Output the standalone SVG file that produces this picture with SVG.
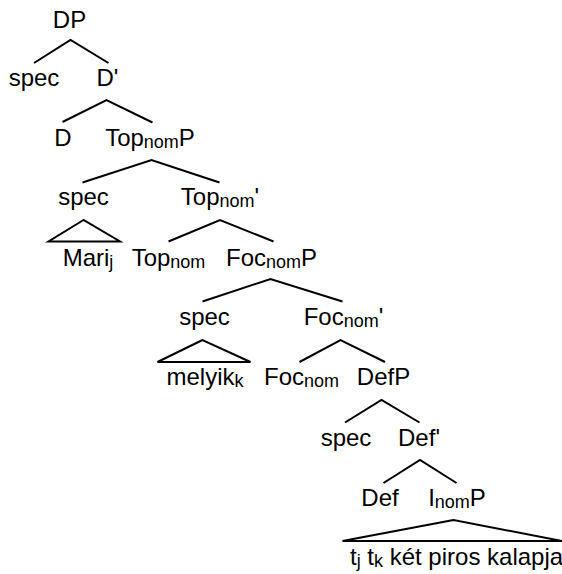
<svg xmlns="http://www.w3.org/2000/svg" width="562" height="574" viewBox="0 0 562 574">
<style>
  text { font-family: "Liberation Sans", Arial, sans-serif; font-size: 24px; fill: #000; text-anchor: middle; }
  .sub { font-size: 18px; }
  .edge { stroke: #000; stroke-width: 2; fill: none; }
</style>
<rect width="562" height="574" fill="#fff"/>
<g id="connectors">
  <polyline class="edge" points="34,63 70.5,40 108.5,63"/>
  <polyline class="edge" points="62.5,122 106.5,100 152.5,122.5"/>
  <polyline class="edge" points="82.5,182.5 151.5,160 219.5,182.5"/>
  <polyline class="edge" points="168.5,241.5 220,220 273.5,241.5"/>
  <polygon class="edge" points="83.5,220 48.5,241.5 120,241.5"/>
  <polyline class="edge" points="202.5,301.5 270.5,279 342.5,301.5"/>
  <polyline class="edge" points="299.5,362 340.5,340 385,362"/>
  <polygon class="edge" points="202.5,340 157.5,362 250.5,362"/>
  <polyline class="edge" points="345,422.5 381.5,400 419.5,422.5"/>
  <polyline class="edge" points="383.5,483 420,460 456.5,483"/>
  <polygon class="edge" points="453.5,520 342.5,541 562,541"/>
</g>
<g id="n-DP"><text x="69.5" y="28">DP</text></g>
<g id="n-spec1"><text x="34" y="86">spec</text></g>
<g id="n-Dbar"><text x="107.5" y="86">D'</text></g>
<g id="n-D"><text x="63" y="146">D</text></g>
<g id="n-TopnomP"><text x="150" y="146">Top<tspan class="sub" dy="1.5">nom</tspan><tspan dy="-1.5">P</tspan></text></g>
<g id="n-spec2"><text x="83.5" y="205">spec</text></g>
<g id="n-Topnombar"><text x="220" y="205">Top<tspan class="sub" dy="1.5">nom</tspan><tspan dy="-1.5">'</tspan></text></g>
<g id="n-Mari"><text x="88" y="266">Mari<tspan class="sub" dy="1.5">j</tspan></text></g>
<g id="n-Topnom"><text x="168.5" y="266">Top<tspan class="sub" dy="1.5">nom</tspan></text></g>
<g id="n-FocnomP"><text x="271.5" y="266">Foc<tspan class="sub" dy="1.5">nom</tspan><tspan dy="-1.5">P</tspan></text></g>
<g id="n-spec3"><text x="204.5" y="325">spec</text></g>
<g id="n-Focnombar"><text x="343.5" y="325">Foc<tspan class="sub" dy="1.5">nom</tspan><tspan dy="-1.5">'</tspan></text></g>
<g id="n-melyik"><text x="205" y="385">melyik<tspan class="sub" dy="1.5">k</tspan></text></g>
<g id="n-Focnom"><text x="301.5" y="385">Foc<tspan class="sub" dy="1.5">nom</tspan></text></g>
<g id="n-DefP"><text x="383.5" y="385">DefP</text></g>
<g id="n-spec4"><text x="346" y="446">spec</text></g>
<g id="n-Defbar"><text x="419" y="446">Def'</text></g>
<g id="n-Def"><text x="380" y="506">Def</text></g>
<g id="n-InomP"><text x="457" y="506">I<tspan class="sub" dy="1.5">nom</tspan><tspan dy="-1.5">P</tspan></text></g>
<g id="n-terminal"><text x="350" y="565" style="text-anchor:start">t<tspan class="sub" dy="1.5">j</tspan><tspan dy="-1.5"> t</tspan><tspan class="sub" dy="1.5">k</tspan><tspan dy="-1.5"> két piros kalapja</tspan></text></g>
</svg>
